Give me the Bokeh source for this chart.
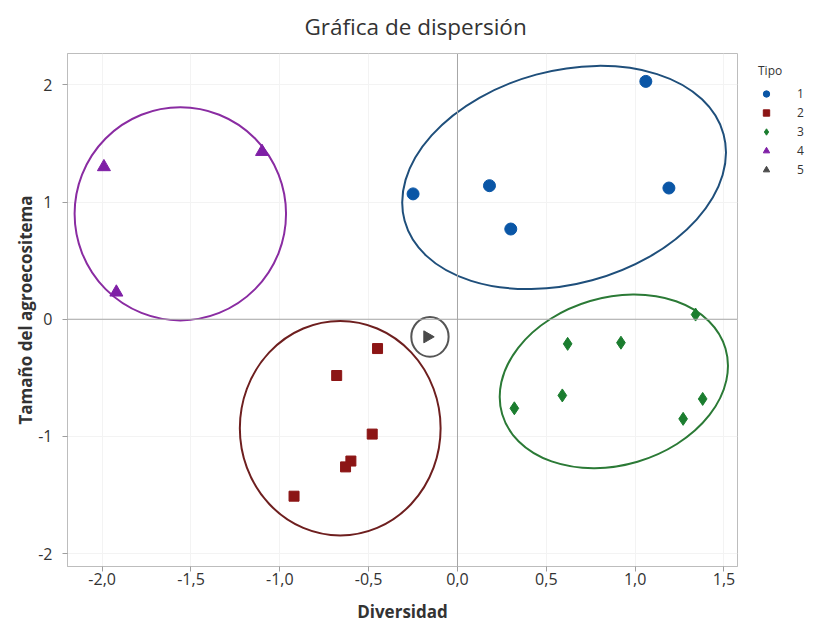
import math
from bokeh.plotting import figure
from bokeh.models import Span, Legend, LegendItem, FixedTicker, Range1d
from bokeh.embed import file_html
from bokeh.resources import INLINE

# ---- data ----
tipo_labels = ["1", "2", "3", "4", "5"]
t1_x = [-0.25, 0.18, 0.30, 1.06, 1.19]
t1_y = [1.07, 1.14, 0.77, 2.03, 1.12]
t2_x = [-0.45, -0.68, -0.48, -0.60, -0.63, -0.92]
t2_y = [-0.25, -0.48, -0.98, -1.21, -1.26, -1.51]
t3_x = [1.34, 0.62, 0.92, 0.59, 0.32, 1.38, 1.27]
t3_y = [0.04, -0.21, -0.20, -0.65, -0.76, -0.68, -0.85]
t4_x = [-1.99, -1.10, -1.92]
t4_y = [1.30, 1.43, 0.23]
t5_x = [-0.17]
t5_y = [-0.15]

# group ellipses (centre, full width / height in data units, tilt in degrees)
ell_cx = [0.60, -0.66, 0.88, -1.56, -0.155]
ell_cy = [1.21, -0.93, -0.53, 0.90, -0.15]
ell_w = [1.86, 1.13, 1.31, 1.19, 0.21]
ell_h = [1.82, 1.83, 1.43, 1.82, 0.34]
ell_deg = [15.2, 0.0, 16.4, 0.0, 0.0]

x_ticks = [-2.0, -1.5, -1.0, -0.5, 0.0, 0.5, 1.0, 1.5]
x_tick_labels = ["-2,0", "-1,5", "-1,0", "-0,5", "0,0", "0,5", "1,0", "1,5"]
y_ticks = [-2, -1, 0, 1, 2]
y_tick_labels = ["-2", "-1", "0", "1", "2"]

pt_colors = ["#0a56a6", "#8c1515", "#1b7d2f", "#7f1fa6", "#4a4a4a"]
ell_colors = ["#1f4f7b", "#6e1f1f", "#2b7a36", "#8a2ca2", "#555555"]

FONT = "Open Sans"

p = figure(frame_width=670, frame_height=513,
           min_border_left=67, min_border_top=52, min_border_right=69,
           min_border_bottom=50,
           x_range=Range1d(-2.195, 1.576), y_range=Range1d(-2.11, 2.268),
           output_backend="svg", toolbar_location=None,
           title="Gráfica de dispersión")

p.title.text_font = FONT
p.title.text_font_size = "22.5px"
p.title.text_font_style = "normal"
p.title.text_color = "#333333"
p.title.align = "left"
p.title.offset = 237
p.title.vertical_align = "top"
p.title.standoff = 20

p.outline_line_color = "#bdbdbd"
p.outline_line_width = 1

for g in (p.xgrid, p.ygrid):
    g.grid_line_color = "#f3f3f3"

p.xaxis.ticker = FixedTicker(ticks=x_ticks)
p.xaxis.major_label_overrides = {t: l for t, l in zip(x_ticks, x_tick_labels)}
p.yaxis.ticker = FixedTicker(ticks=y_ticks)
p.yaxis.major_label_overrides = {t: l for t, l in zip(y_ticks, y_tick_labels)}
p.xgrid.ticker = FixedTicker(ticks=x_ticks)
p.ygrid.ticker = FixedTicker(ticks=y_ticks)

for ax in (p.xaxis, p.yaxis):
    ax.axis_line_color = "#bdbdbd"
    ax.major_tick_line_color = "#9e9e9e"
    ax.major_tick_out = 5
    ax.major_tick_in = 0
    ax.minor_tick_line_color = None
    ax.major_label_text_font = FONT
    ax.major_label_text_font_size = "16px"
    ax.major_label_text_color = "#333333"
    ax.axis_label_text_font = FONT
    ax.axis_label_text_font_size = "17px"
    ax.axis_label_text_font_style = "bold"
    ax.axis_label_text_color = "#333333"

p.xaxis.axis_label = "Diversidad"
p.yaxis.axis_label = "Tamaño del agroecositema"
p.xaxis.major_label_standoff = 1
p.xaxis.axis_label_standoff = 12
p.yaxis.major_label_standoff = 10
p.yaxis.axis_label_standoff = -2

p.add_layout(Span(location=0, dimension="width", line_color="#a6a6a6", line_width=1))
p.add_layout(Span(location=0, dimension="height", line_color="#a6a6a6", line_width=1))

# ellipses
for cx, cy, w, h, d, c in zip(ell_cx, ell_cy, ell_w, ell_h, ell_deg, ell_colors):
    p.ellipse(x=cx, y=cy, width=w, height=h, angle=math.radians(d),
              fill_color=None, line_color=c, line_width=2)

r1 = p.scatter(t1_x, t1_y, marker="circle", size=12, fill_color=pt_colors[0], line_color=pt_colors[0])
r2 = p.scatter(t2_x, t2_y, marker="square", size=10, fill_color=pt_colors[1], line_color=pt_colors[1])
r3 = p.scatter(t3_x, t3_y, marker="diamond", size=13, fill_color=pt_colors[2], line_color=pt_colors[2])
r4 = p.scatter(t4_x, t4_y, marker="triangle", size=13, fill_color=pt_colors[3], line_color=pt_colors[3])
r5 = p.scatter(t5_x, t5_y, marker="triangle", size=12, angle=-math.pi / 2,
               fill_color=pt_colors[4], line_color=pt_colors[4])

legend = Legend(items=[LegendItem(label=l, renderers=[r]) for l, r in
                       zip(tipo_labels, [r1, r2, r3, r4, r5])],
                title="Tipo")
legend.title_text_font = FONT
legend.title_text_font_size = "12px"
legend.title_text_font_style = "normal"
legend.title_text_color = "#333333"
legend.label_text_font = FONT
legend.label_text_font_size = "12px"
legend.label_text_color = "#333333"
legend.border_line_color = None
legend.background_fill_color = None
legend.glyph_height = 19
legend.label_height = 19
legend.spacing = 0
legend.glyph_width = 16
legend.label_standoff = 23
legend.padding = 2
legend.location = (21, 387)
p.add_layout(legend, "right")

open("out.html", "w").write(file_html(p, INLINE))
